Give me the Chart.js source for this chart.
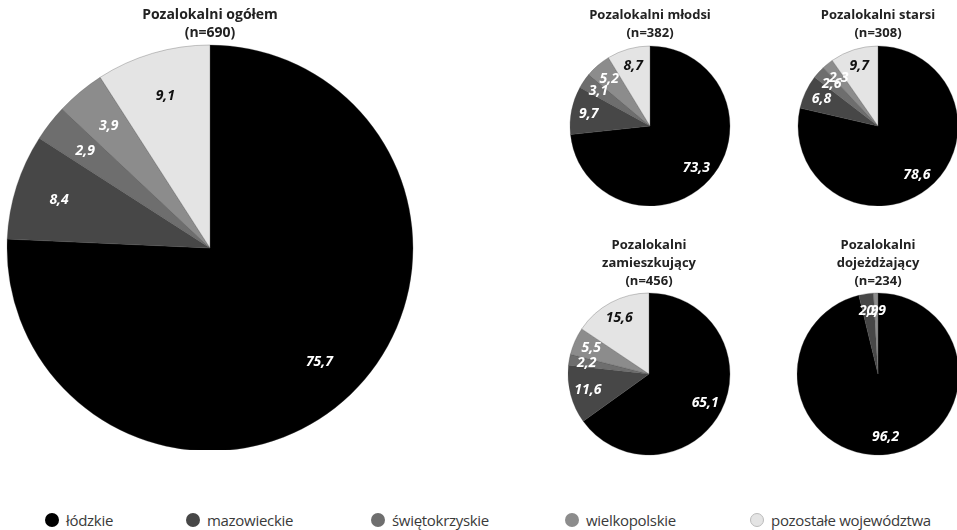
<!DOCTYPE html>
<html>
<head>
<meta charset="utf-8">
<script src="https://cdn.jsdelivr.net/npm/chart.js@4"></script>
<style>
  html, body { margin: 0; padding: 0; background: #fff; }
  body { width: 957px; height: 530px; position: relative; overflow: hidden; font-family: "Open Sans", sans-serif; }
  canvas { position: absolute; }
  #legend { position: absolute; left: 0; top: 510px; width: 957px; height: 20px; }
  .li { position: absolute; top: 0; height: 20px; display: flex; align-items: center; font-size: 15px; color: #3a3a3a; white-space: nowrap; letter-spacing: -0.3px; }
  .dot { width: 14px; height: 14px; border-radius: 50%; margin-right: 7px; box-sizing: border-box; }
</style>
</head>
<body>
<canvas id="c0"></canvas>
<canvas id="c1"></canvas>
<canvas id="c2"></canvas>
<canvas id="c3"></canvas>
<canvas id="c4"></canvas>
<div id="legend"></div>
<script>
// ---- data ----
const categories = ["łódzkie", "mazowieckie", "świętokrzyskie", "wielkopolskie", "pozostałe województwa"];
const colors = ["#000000", "#474747", "#6e6e6e", "#8c8c8c", "#e4e4e4"];
const labelColors = ["#ffffff", "#ffffff", "#ffffff", "#ffffff", "#111111"];

const titleOgolem = ["Pozalokalni ogółem", "(n=690)"];
const titleMlodsi = ["Pozalokalni młodsi", "(n=382)"];
const titleStarsi = ["Pozalokalni starsi", "(n=308)"];
const titleZamieszkujacy = ["Pozalokalni", "zamieszkujący", "(n=456)"];
const titleDojezdzajacy = ["Pozalokalni", "dojeżdżający", "(n=234)"];

const valuesOgolem = [75.7, 8.4, 2.9, 3.9, 9.1];
const valuesMlodsi = [73.3, 9.7, 3.1, 5.2, 8.7];
const valuesStarsi = [78.6, 6.8, 2.6, 2.3, 9.7];
const valuesZamieszkujacy = [65.1, 11.6, 2.2, 5.5, 15.6];
const valuesDojezdzajacy = [96.2, 2.9, 0, 0.9, 0];

// ---- label plugin ----
const sliceLabels = {
  id: 'sliceLabels',
  afterDatasetsDraw(chart) {
    const ctx = chart.ctx;
    const meta = chart.getDatasetMeta(0);
    const vals = chart.data.datasets[0].data;
    ctx.save();
    ctx.font = 'italic bold 14px "Open Sans"';
    ctx.textAlign = 'center';
    ctx.textBaseline = 'middle';
    meta.data.forEach((arc, i) => {
      const v = vals[i];
      if (!v) return;
      const p = arc.getProps(['x', 'y', 'startAngle', 'endAngle', 'outerRadius']);
      const a = (p.startAngle + p.endAngle) / 2;
      const r = p.outerRadius * 0.78;
      ctx.fillStyle = labelColors[i];
      ctx.fillText(v.toFixed(1).replace('.', ','), p.x + Math.cos(a) * r, p.y + Math.sin(a) * r);
    });
    ctx.restore();
  }
};

function makePie(id, left, top, width, height, radius, title, values, titleSize, titlePadBottom) {
  const cv = document.getElementById(id);
  cv.style.left = left + 'px';
  cv.style.top = top + 'px';
  cv.style.width = width + 'px';
  cv.style.height = height + 'px';
  cv.width = width; cv.height = height;
  const lh = 18 / titleSize;
  return new Chart(cv, {
    type: 'pie',
    data: {
      labels: categories,
      datasets: [{
        data: values,
        backgroundColor: colors,
        borderColor: 'rgba(70,70,70,0.6)',
        borderWidth: 0.5
      }]
    },
    options: {
      responsive: false,
      animation: false,
      radius: radius,
      layout: { padding: 0 },
      plugins: {
        legend: { display: false },
        tooltip: { enabled: false },
        title: {
          display: true,
          text: title,
          color: '#222',
          font: { family: 'Open Sans', size: titleSize, weight: 'bold', lineHeight: lh },
          padding: { top: 6, bottom: titlePadBottom }
        }
      }
    },
    plugins: [sliceLabels]
  });
}

makePie('c0', 0, 0, 420, 450, 203, titleOgolem, valuesOgolem, 14, 4);
makePie('c1', 540, 0, 220, 206, 80, titleMlodsi, valuesMlodsi, 13, 4);
makePie('c2', 768, 0, 220, 206, 80, titleStarsi, valuesStarsi, 13, 4);
makePie('c3', 539, 230, 220, 226, 81, titleZamieszkujacy, valuesZamieszkujacy, 13, 2);
makePie('c4', 768, 230, 220, 226, 81, titleDojezdzajacy, valuesDojezdzajacy, 13, 2);

// ---- legend ----
const legendX = [45, 186, 371, 565, 750];
const legend = document.getElementById('legend');
categories.forEach((c, i) => {
  const d = document.createElement('div');
  d.className = 'li';
  d.style.left = legendX[i] + 'px';
  const dot = document.createElement('span');
  dot.className = 'dot';
  dot.style.background = colors[i];
  if (i === 4) dot.style.border = '1px solid #bbb';
  const t = document.createElement('span');
  t.textContent = c;
  d.appendChild(dot); d.appendChild(t);
  legend.appendChild(d);
});
</script>
</body>
</html>
